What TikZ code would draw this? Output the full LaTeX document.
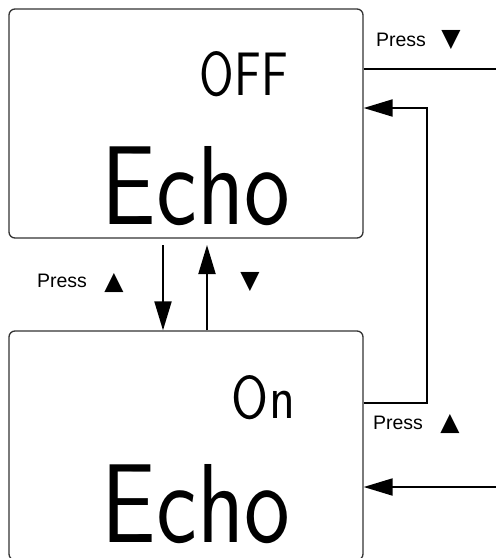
\documentclass[tikz,border=0pt]{standalone}
\usepackage{fontspec}
\setmainfont{Liberation Sans}
\newfontfamily\symfont{DejaVu Sans}
\usetikzlibrary{arrows.meta}
\tikzset{
  lcd/.style={draw=black!80, line width=1.3pt, rounded corners=6pt, minimum width=354pt, minimum height=229pt, inner sep=0pt},
  seg/.style={inner sep=0pt, font=\sffamily},
  lbl/.style={inner sep=0pt, font=\fontsize{19.5}{19.5}\selectfont},
  sym/.style={inner sep=0pt, font=\symfont\fontsize{25}{25}\selectfont},
  conn/.style={line width=2pt},
  arr/.style={line width=2pt, -{Triangle[length=29pt,width=17pt]}}
}
\begin{document}
\begin{tikzpicture}[x=1pt,y=-1pt]
\useasboundingbox (0,0) rectangle (496,558);
\clip (0,0) rectangle (496,558);
% boxes
\node[lcd] (top) at (186,123.5) {};
\node[lcd] (bot) at (186,445.5) {};
% display texts
\node[seg] (off) at (244,74) {\resizebox{88pt}{44pt}{OFF}};
\node[seg] (echo1) at (196,186) {\resizebox{188pt}{78pt}{Echo}};
\node[seg] (on) at (263.5,397.5) {\resizebox{63pt}{43pt}{On}};
\node[seg] (echo2) at (196,504) {\resizebox{188pt}{78pt}{Echo}};
% labels
\node[lbl] (p1) at (401,40) {Press};
\node[sym] (s1) at (451,40.5) {▼};
\node[lbl] (p2) at (62,281) {Press};
\node[sym] (s2) at (114,283) {▲};
\node[sym] (s3) at (250,282) {▼};
\node[lbl] (p3) at (398,423) {Press};
\node[sym] (s4) at (450,424) {▲};
% coordinates
\coordinate (e1) at (496,69);
\coordinate (c1) at (427,108);
\coordinate (c2) at (427,403);
\coordinate (e2) at (496,487);
\coordinate (d1) at (163,245);
\coordinate (u1) at (207,245);
% connectors
\draw[conn] (top.east |- e1) -- (e1);
\draw[arr] (bot.east |- c2) -- (c2) -- (c1) -- (top.east |- c1);
\draw[arr] (e2) -- (bot.east |- e2);
\draw[arr] (d1) -- (d1 |- bot.north);
\draw[arr] (u1 |- bot.north) -- (u1);
\end{tikzpicture}
\end{document}
